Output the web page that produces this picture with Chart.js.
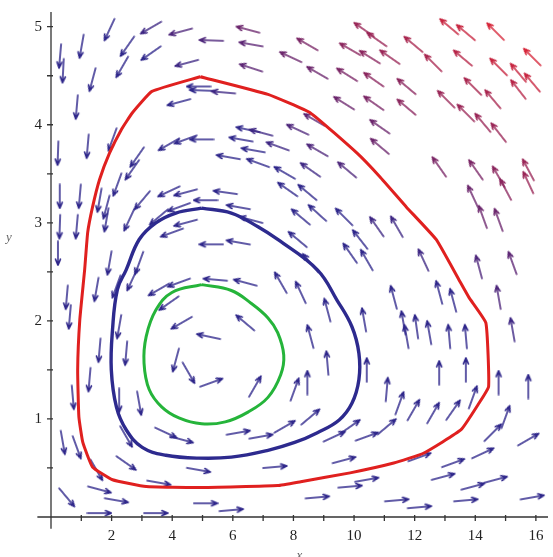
<!DOCTYPE html>
<html>
<head>
<meta charset="utf-8">
<script src="https://cdn.jsdelivr.net/npm/chart.js@4"></script>
<style>
  html, body { margin: 0; padding: 0; background: #fff; }
  canvas { display: block; }
</style>
</head>
<body>
<canvas id="phase" width="553" height="557"></canvas>
<script>
// tick labels and minor marks
const xTicks = [2, 4, 6, 8, 10, 12, 14, 16];
const yTicks = [1, 2, 3, 4, 5];
const xMarks = [1, 2, 3, 4, 5, 6, 7, 8, 9, 10, 11, 12, 13, 14, 15, 16];
const yMarks = [0.5, 1, 1.5, 2, 2.5, 3, 3.5, 4, 4.5, 5];

// closed orbits
const redX = [4.93, 3.33, 2.68, 2.32, 1.93, 1.60, 1.37, 1.21, 1.11, 0.95, 0.88, 0.92, 1.05, 1.37, 2.03, 3.14, 4.87, 7.48, 8.24, 9.87, 11.31, 12.29, 13.53, 14.12, 14.44, 14.35, 13.79, 13.46, 12.71, 11.73, 10.85, 10.10, 8.56, 7.16, 4.93];
const redY = [4.49, 4.34, 4.12, 3.95, 3.71, 3.44, 3.16, 2.90, 2.52, 2.01, 1.50, 1.02, 0.76, 0.51, 0.38, 0.31, 0.30, 0.32, 0.36, 0.45, 0.55, 0.65, 0.89, 1.16, 1.33, 1.98, 2.24, 2.42, 2.83, 3.16, 3.47, 3.71, 4.12, 4.31, 4.49];

const blueX = [4.97, 4.12, 3.46, 2.91, 2.48, 2.19, 2.03, 1.99, 2.16, 2.48, 3.01, 3.79, 4.87, 5.95, 7.16, 8.04, 8.79, 9.51, 9.93, 10.16, 10.16, 9.93, 9.44, 8.79, 7.48, 6.83, 5.95, 4.97];
const blueY = [3.15, 3.10, 3.00, 2.83, 2.52, 2.32, 1.91, 1.50, 1.12, 0.89, 0.71, 0.63, 0.60, 0.61, 0.68, 0.76, 0.86, 0.99, 1.16, 1.40, 1.67, 1.94, 2.21, 2.52, 2.83, 2.96, 3.10, 3.15];

const greenX = [4.97, 3.99, 3.46, 3.14, 3.07, 3.24, 3.66, 4.22, 4.97, 5.75, 6.50, 7.16, 7.58, 7.68, 7.48, 7.16, 6.60, 5.95, 4.97];
const greenY = [2.37, 2.29, 2.11, 1.84, 1.57, 1.30, 1.12, 1.01, 0.95, 0.97, 1.07, 1.22, 1.45, 1.65, 1.88, 2.03, 2.18, 2.31, 2.37];

// direction field: arrow positions and their drawn angle (degrees, counter-clockwise from +x)
const arrowX = [
  0.30, 0.40, 1.01, 1.93, 2.52, 2.35, 3.30, 3.30, 4.28, 5.29, 6.50, 6.60, 4.48, 6.60, 4.87, 4.97, 4.22, 5.69, 0.85, 1.37,
  1.21, 2.03, 2.84, 3.89, 4.44, 4.97, 6.27, 6.50, 6.67, 6.93, 5.85, 6.83, 0.23, 0.29, 0.95, 1.60, 1.83, 2.19, 2.68, 3.89,
  4.44, 5.10, 5.75, 6.18, 6.60, 4.22, 3.56, 3.01, 0.29, 0.85, 1.83, 2.58, 3.99, 4.44, 5.29, 6.18, 0.23, 1.93, 2.91,
  8.46, 7.91, 10.33, 10.75, 11.96, 13.14, 13.69, 14.67, 15.88, 9.87, 10.52, 11.18, 12.61, 13.59, 14.77, 15.42, 15.88,
  8.79, 9.77, 10.65, 11.73, 13.04, 13.92, 14.58, 15.42, 9.67, 10.65, 11.73, 13.69, 14.25, 14.77, 8.69, 8.14, 10.85,
  7.48, 8.79, 10.85, 12.81, 14.02, 14.77, 15.75, 7.71, 8.56, 9.77, 7.81, 8.46, 13.92, 15.00, 15.75, 14.25, 14.77,
  8.24, 8.79, 9.67, 10.75, 11.41, 10.20, 8.14, 8.56, 9.87, 10.42, 12.29, 14.12, 15.23,
  0.52, 0.62, 1.50, 2.16, 2.68, 3.56, 4.22, 5.42, 6.41, 3.89, 4.31, 5.20, 6.41, 4.12, 4.54, 5.29, 6.73, 2.25, 2.48,
  1.60, 1.27, 0.72, 2.91, 2.25, 0.39, 0.85, 1.50, 0.52, 2.48, 2.48, 3.79, 4.31, 4.87, 1.60, 2.16, 3.56, 5.10, 5.95,
  1.60, 3.46, 6.18, 6.93,
  7.58, 8.24, 8.56, 9.12, 9.12, 8.46, 8.04, 10.33, 10.42, 11.31, 11.73, 11.63, 11.08, 12.06, 12.48, 12.81, 13.27,
  13.14, 13.69, 12.81, 13.69, 14.77, 15.23, 15.75, 14.77, 11.50, 11.96, 12.61, 13.27, 13.92, 15.00, 14.58, 15.75,
  11.08, 9.87, 9.35, 8.56, 7.71, 9.67, 10.42, 12.16, 13.27, 14.25, 12.94, 13.92, 14.67, 10.42, 9.87, 8.79, 11.41,
  12.16, 13.69, 15.88, 7.39
];
const arrowY = [
  4.70, 4.55, 4.80, 4.97, 4.80, 4.59, 4.99, 4.73, 4.95, 4.86, 4.97, 4.82, 4.63, 4.58, 4.39, 4.35, 4.23, 4.33, 4.18, 4.46,
  3.78, 3.85, 3.67, 3.80, 3.85, 3.85, 3.85, 3.95, 3.74, 3.92, 3.67, 3.61, 3.71, 3.27, 3.27, 3.23, 3.16, 3.39, 3.54, 3.32,
  3.31, 3.23, 3.31, 3.16, 3.03, 3.16, 3.06, 3.23, 2.96, 2.96, 3.03, 3.03, 2.90, 3.00, 2.78, 2.80, 2.69, 2.59, 2.59,
  4.82, 4.69, 4.97, 4.87, 4.82, 5.00, 4.94, 4.95, 4.69, 4.77, 4.69, 4.69, 4.63, 4.68, 4.59, 4.53, 4.43,
  4.53, 4.51, 4.46, 4.39, 4.26, 4.39, 4.26, 4.36, 4.22, 4.22, 4.18, 4.12, 4.02, 3.92, 4.05, 3.95, 3.98,
  3.78, 3.74, 3.78, 3.57, 3.54, 3.47, 3.54, 3.51, 3.54, 3.54, 3.34, 3.31, 3.27, 3.34, 3.41, 3.06, 3.03,
  3.06, 3.10, 3.06, 2.96, 2.96, 2.83, 2.83, 2.59, 2.69, 2.62, 2.62, 2.55, 2.59,
  2.24, 2.04, 2.32, 2.35, 2.42, 2.32, 2.39, 2.42, 2.39, 2.18, 1.98, 1.84, 1.98, 1.60, 1.47, 1.37, 1.33, 1.94, 1.67,
  1.70, 1.40, 1.22, 1.16, 1.19, 0.76, 0.71, 0.48, 0.20, 0.82, 0.55, 0.86, 0.79, 0.48, 0.28, 0.17, 0.35, 0.14, 0.07,
  0.04, 0.04, 0.86, 0.82,
  2.39, 2.29, 1.84, 2.11, 1.57, 1.37, 1.30, 2.01, 1.50, 2.24, 1.84, 1.98, 1.30, 1.94, 1.88, 2.29, 2.21,
  1.84, 1.84, 1.47, 1.50, 2.24, 1.91, 1.33, 1.37, 1.16, 1.09, 1.06, 1.09, 1.22, 1.02, 0.86, 0.79,
  0.92, 0.92, 0.82, 1.02, 0.92, 0.58, 0.82, 0.61, 0.55, 0.65, 0.41, 0.31, 0.38, 0.38, 0.31, 0.20, 0.17,
  0.10, 0.17, 0.20, 0.51
];
const arrowDir = [
  -95, -93, -100, -115, -125, -120, -150, -145, -165, 178, 165, 170, -165, 162, 180, 178, -165, 175, -95, -105,
  -95, -110, -125, -150, -160, 180, 170, 168, 170, 165, 170, 160, -92, -90, -95, -100, -105, -110, -125, -155,
  -165, 180, 172, 170, 165, -160, -140, -130, -92, -95, -100, -115, -160, -165, 180, 170, -90, -100, -110,
  150, 155, 145, 145, 140, 140, 140, 135, 135, 150, 148, 145, 135, 140, 135, 130, 130,
  150, 148, 145, 140, 135, 135, 130, 128, 148, 145, 140, 135, 130, 128, 150, 155, 145,
  160, 150, 140, 125, 125, 120, 118, 150, 145, 140, 145, 140, 115, 118, 115, 110, 110,
  140, 138, 135, 125, 120, 128, 140, 130, 125, 120, 115, 105, 110,
  -95, -95, -100, -110, -115, -150, -160, 175, 165, -145, -150, 168, 140, -105, -60, 20, 60, -100, -95,
  -95, -95, -85, -80, -90, -80, -70, -60, -50, -60, -35, -25, -15, -10, -15, -10, -10, 0, 5,
  0, 0, 10, 10,
  120, 115, 105, 105, 95, 90, 70, 100, 90, 105, 100, 100, 85, 98, 100, 105, 105,
  95, 95, 90, 90, 100, 100, 90, 90, 70, 60, 60, 55, 70, 70, 45, 30,
  40, 35, 25, 40, 30, 15, 20, 20, 20, 25, 15, 15, 15, 10, 5, 5, 5,
  5, 5, 10, 5
];

// arrow colour goes from blue-violet to red towards the upper right
const LEVELS = 12;
function heatColor(t) {
  const r = Math.round(46 + (214 - 46) * t);
  const g = Math.round(38 + (36 - 38) * t);
  const b = Math.round(138 + (56 - 138) * t);
  return `rgb(${r},${g},${b})`;
}
function makeArrow(color) {
  const c = document.createElement('canvas');
  c.width = 26; c.height = 10;
  const g = c.getContext('2d');
  g.strokeStyle = color;
  g.lineWidth = 1.6;
  g.lineCap = 'round';
  g.beginPath();
  g.moveTo(1, 5); g.lineTo(25, 5);
  g.moveTo(25, 5); g.lineTo(19, 2.6);
  g.moveTo(25, 5); g.lineTo(19, 7.4);
  g.stroke();
  return c;
}
const arrowImgs = [];
for (let i = 0; i < LEVELS; i++) arrowImgs.push(makeArrow(heatColor(i / (LEVELS - 1))));

function heatLevel(i) {
  let t = ((arrowX[i] - 9) / 7 + (arrowY[i] - 3.2) / 1.8) * 0.55;
  t = Math.max(0, Math.min(1, t));
  return Math.round(t * (LEVELS - 1));
}

const toPoints = (xs, ys) => xs.map((v, i) => ({ x: v, y: ys[i] }));

const AXIS_COLOR = '#333';
const LABEL_FONT = { family: 'Liberation Serif', size: 15 };

// Maple style axes crossing at the origin
const axesPlugin = {
  id: 'mapleAxes',
  afterDatasetsDraw(chart) {
    const { ctx, scales: { x, y } } = chart;
    const x0 = x.getPixelForValue(0);
    const y0 = y.getPixelForValue(0);
    ctx.save();
    ctx.strokeStyle = AXIS_COLOR;
    ctx.lineWidth = 1.3;
    ctx.beginPath();
    ctx.moveTo(x.getPixelForValue(-0.45), y0);
    ctx.lineTo(x.right, y0);
    ctx.moveTo(x0, y.getPixelForValue(-0.12));
    ctx.lineTo(x0, y.top);
    xMarks.forEach(v => {
      const px = x.getPixelForValue(v);
      ctx.moveTo(px, y0 - 2);
      ctx.lineTo(px, y0 + 4);
    });
    yMarks.forEach(v => {
      const py = y.getPixelForValue(v);
      ctx.moveTo(x0 - 4, py);
      ctx.lineTo(x0 + 2, py);
    });
    ctx.stroke();

    ctx.fillStyle = '#666';
    ctx.font = 'italic 13px "Liberation Serif"';
    ctx.textAlign = 'center';
    ctx.textBaseline = 'top';
    ctx.fillText('x', (x.left + x.right) / 2, 549);
    ctx.textBaseline = 'middle';
    ctx.fillText('y', 9, 238);
    ctx.restore();
  }
};

new Chart(document.getElementById('phase'), {
  type: 'scatter',
  data: {
    datasets: [
      {
        label: 'red orbit',
        data: toPoints(redX, redY),
        showLine: true,
        borderColor: '#e0201f',
        borderWidth: 3,
        pointRadius: 0,
        tension: 0.12,
        order: 0
      },
      {
        label: 'blue orbit',
        data: toPoints(blueX, blueY),
        showLine: true,
        borderColor: '#2d2a8e',
        borderWidth: 3.4,
        pointRadius: 0,
        tension: 0.4,
        order: 0
      },
      {
        label: 'green orbit',
        data: toPoints(greenX, greenY),
        showLine: true,
        borderColor: '#25b43a',
        borderWidth: 3,
        pointRadius: 0,
        tension: 0.4,
        order: 0
      },
      {
        label: 'field',
        data: toPoints(arrowX, arrowY),
        showLine: false,
        pointRadius: 3,
        pointStyle: c => arrowImgs[heatLevel(c.dataIndex)],
        rotation: c => -arrowDir[c.dataIndex],
        order: 1
      }
    ]
  },
  options: {
    responsive: false,
    animation: false,
    events: [],
    layout: { padding: { top: 12, right: 0, left: 0, bottom: 0 } },
    plugins: { legend: { display: false }, tooltip: { enabled: false } },
    scales: {
      x: {
        type: 'linear',
        min: 0,
        max: 16.4,
        grid: { display: false, drawTicks: false },
        border: { display: false },
        afterBuildTicks: s => { s.ticks = xTicks.map(v => ({ value: v })); },
        afterFit: s => { s.height = 40; s.paddingLeft = 0; s.paddingRight = 0; },
        ticks: { font: LABEL_FONT, color: '#222', padding: 10, maxRotation: 0, autoSkip: false }
      },
      y: {
        type: 'linear',
        min: 0,
        max: 5.15,
        grid: { display: false, drawTicks: false },
        border: { display: false },
        afterBuildTicks: s => { s.ticks = yTicks.map(v => ({ value: v })); },
        afterFit: s => { s.width = 51; s.paddingTop = 0; s.paddingBottom = 0; },
        ticks: { font: LABEL_FONT, color: '#222', padding: 9, autoSkip: false }
      }
    }
  },
  plugins: [axesPlugin]
});
</script>
</body>
</html>
